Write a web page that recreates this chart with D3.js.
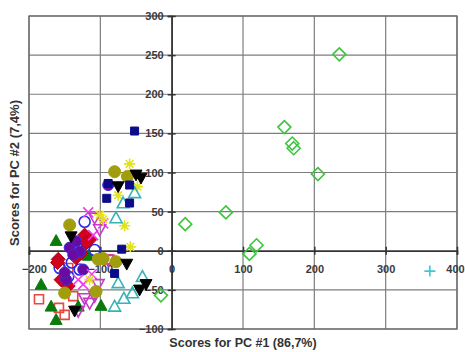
<!DOCTYPE html>
<html><head><meta charset="utf-8">
<script src="https://cdn.jsdelivr.net/npm/d3@7"></script>
<style>body{margin:0;background:#fff}svg{display:block}</style>
</head><body>
<svg id="chart" width="465" height="352"></svg>
<script>
// ---- data ----
const xTicks = [-200, -100, 0, 100, 200, 300, 400];
const yTicks = [-100, -50, 0, 50, 100, 150, 200, 250, 300];
const xTitle = "Scores for PC #1 (86,7%)";
const yTitle = "Scores for PC #2 (7,4%)";

const salmonSquares = [[-186,-62],[-158,-73],[-150,-82],[-138,-58],[-145,-22],[-89,-11]];
const greenTriangles = [[-162,13],[-117,-6],[-183,-43],[-169,-71],[-162,-88],[-99,-70],[-131,-71],[-150,-30]];
const redDiamonds = [[-115,14],[-122,20],[-127,-3],[-159,-11],[-150,-41],[-134,-9],[-155,-37],[-120,10],[-145,-45],[-160,-15]];
const purpleDots = [[-89,84],[-143,4],[-129,-1],[-124,-24],[-148,-37],[-134,12],[-150,-28],[-138,-5]];
const blueCircles = [[-122,37],[-134,6],[-157,-22],[-145,-33],[-129,-24],[-108,1],[-140,-15]];
const magentaX = [[-117,49],[-96,35],[-110,20],[-124,-43],[-131,-37],[-112,-30]];
const magentaTri = [[-108,42],[-101,27],[-103,-43],[-115,-67],[-131,-77],[-89,-12],[-122,-61],[-108,-58]];
const oliveCircles = [[-80,101],[-62,95],[-143,33],[-103,-11],[-78,-14],[-150,-54],[-106,-52],[-96,-10]];
const yellowStars = [[-59,111],[-75,71],[-48,82],[-66,32],[-58,5],[-101,46],[-115,-37],[-96,40]];
const cyanTriangles = [[-52,74],[-68,61],[-78,42],[-75,-41],[-41,-33],[-55,-54],[-67,-61],[-80,-71]];
const navySquares = [[-52,153],[-91,67],[-59,61],[-59,84],[-70,2],[-80,-29],[-89,86]];
const blackTriangles = [[-50,97],[-43,93],[-75,82],[-63,-17],[-45,-50],[-36,-43],[-136,-77],[-141,18]];
const greenDiamonds = [[235,251],[158,158],[169,137],[171,131],[205,98],[19,34],[76,49],[109,-4],[119,7],[-15,-57]];
const cyanPlus = [[362,-26]];

// ---- series styles ----
const series = [
  {data: salmonSquares, shape: "square", fill: "none", stroke: "#e8483f", size: 9},
  {data: greenTriangles, shape: "triangle", fill: "#0a7a0a", stroke: "#0a7a0a", size: 12},
  {data: blueCircles, shape: "circle", fill: "none", stroke: "#2b2bef", size: 11},
  {data: redDiamonds, shape: "diamond", fill: "#d0001e", stroke: "#b0001a", size: 14},
  {data: purpleDots, shape: "circle", fill: "#6a0aa0", stroke: "#3b2bd8", size: 11},
  {data: magentaX, shape: "x", fill: "none", stroke: "#f03cf0", size: 10},
  {data: magentaTri, shape: "tridown", fill: "none", stroke: "#c73ac7", size: 12},
  {data: oliveCircles, shape: "circle", fill: "#a29d0c", stroke: "#a29d0c", size: 12},
  {data: yellowStars, shape: "star", fill: "none", stroke: "#e2e21a", size: 11},
  {data: cyanTriangles, shape: "triangle", fill: "none", stroke: "#36b3b8", size: 12},
  {data: navySquares, shape: "square", fill: "#0c0c8a", stroke: "#0c0c8a", size: 8},
  {data: blackTriangles, shape: "tridown", fill: "#000", stroke: "#000", size: 12},
  {data: greenDiamonds, shape: "diamond", fill: "none", stroke: "#3ec43e", size: 13},
  {data: cyanPlus, shape: "plus", fill: "none", stroke: "#3cc8d8", size: 11}
];

const svg = d3.select("#chart");
const x = d3.scaleLinear().domain([-200, 400]).range([29, 457]);
const y = d3.scaleLinear().domain([-100, 300]).range([329, 16]);

// grid
svg.append("g").selectAll("line").data(xTicks).join("line")
  .attr("x1", d => x(d)).attr("x2", d => x(d)).attr("y1", y(300)).attr("y2", y(-100))
  .attr("stroke", "#7d7d7d").attr("stroke-width", 1.2);
svg.append("g").selectAll("line").data(yTicks).join("line")
  .attr("y1", d => y(d)).attr("y2", d => y(d)).attr("x1", x(-200)).attr("x2", x(400))
  .attr("stroke", "#7d7d7d").attr("stroke-width", 1.2);
svg.append("rect").attr("x", x(-200)).attr("y", y(300))
  .attr("width", x(400) - x(-200)).attr("height", y(-100) - y(300))
  .attr("fill", "none").attr("stroke", "#6a6a6a").attr("stroke-width", 1.3);

// axes through origin
const xAxis = svg.append("g").attr("transform", `translate(0,${y(0)})`)
  .call(d3.axisBottom(x).tickValues(xTicks).tickSize(4).tickFormat(d3.format("d")));
xAxis.selectAll(".tick line").attr("y1", -4).attr("y2", 4);
xAxis.select(".domain").attr("stroke", "#333").attr("stroke-width", 1.6);
xAxis.selectAll(".tick line").attr("stroke", "#333").attr("stroke-width", 1.5);
xAxis.selectAll(".tick text").attr("y", 14).attr("dy", "0.71em")
  .attr("font-family", "Liberation Sans, Arial, sans-serif").attr("font-size", 11)
  .attr("font-weight", "bold").attr("fill", "#3a3a3a")
  .attr("dx", d => d === -200 ? 5 : (d === 400 ? -2 : 0));

const yAxis = svg.append("g").attr("transform", `translate(${x(0)},0)`)
  .call(d3.axisLeft(y).tickValues(yTicks).tickSize(4).tickFormat(d3.format("d")));
yAxis.selectAll(".tick line").attr("x1", -4).attr("x2", 4).attr("stroke", "#333").attr("stroke-width", 1.5);
yAxis.select(".domain").attr("stroke", "#333").attr("stroke-width", 1.6);
yAxis.selectAll(".tick text").attr("x", -8)
  .attr("font-family", "Liberation Sans, Arial, sans-serif").attr("font-size", 11)
  .attr("font-weight", "bold").attr("fill", "#3a3a3a");

// titles
svg.append("text").attr("x", 243).attr("y", 347).attr("text-anchor", "middle")
  .attr("font-family", "Liberation Sans, Arial, sans-serif").attr("font-size", 12.5)
  .attr("font-weight", "bold").attr("fill", "#333").text(xTitle);
svg.append("text").attr("transform", `translate(19,${173}) rotate(-90)`).attr("text-anchor", "middle")
  .attr("font-family", "Liberation Sans, Arial, sans-serif").attr("font-size", 13)
  .attr("font-weight", "bold").attr("fill", "#333").text(yTitle);

// marker paths
function markerPath(shape, s) {
  const h = s / 2;
  switch (shape) {
    case "square": return `M${-h},${-h}H${h}V${h}H${-h}Z`;
    case "diamond": return `M0,${-h}L${h},0L0,${h}L${-h},0Z`;
    case "triangle": return `M0,${-h}L${h},${h*0.8}L${-h},${h*0.8}Z`;
    case "tridown": return `M0,${h}L${h},${-h*0.8}L${-h},${-h*0.8}Z`;
    case "x": return `M${-h},${-h}L${h},${h}M${-h},${h}L${h},${-h}`;
    case "plus": return `M${-h},0H${h}M0,${-h}V${h}`;
    case "star": {
      const a = h * 0.7;
      return `M${-h},0H${h}M0,${-h}V${h}M${-a},${-a}L${a},${a}M${-a},${a}L${a},${-a}`;
    }
    default: return d3.symbol(d3.symbolCircle, Math.PI * h * h)();
  }
}

const gPts = svg.append("g");
series.forEach(sr => {
  gPts.append("g").selectAll("path").data(sr.data).join("path")
    .attr("transform", d => `translate(${x(d[0])},${y(d[1])})`)
    .attr("d", markerPath(sr.shape, sr.size))
    .attr("fill", sr.fill).attr("stroke", sr.stroke)
    .attr("stroke-width", sr.fill === "none" ? 1.6 : 1);
});
</script>
</body></html>
